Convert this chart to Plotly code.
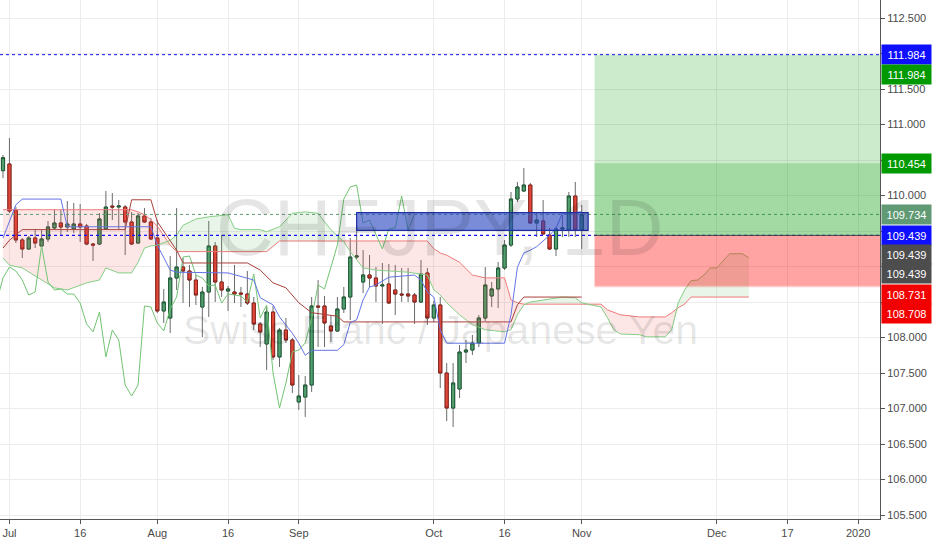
import numpy as np
import pandas as pd
import plotly.graph_objects as go

# ---------------- data ----------------
dates = pd.bdate_range("2019-06-28", "2019-11-01")

opens = [110.350, 110.444, 109.796, 109.374, 109.247, 109.402, 109.289, 109.388, 109.543, 109.613,
         109.557, 109.529, 109.599, 109.571, 109.317, 109.317, 109.529, 109.852, 109.838, 109.838,
         109.627, 109.331, 109.712, 109.627, 109.402, 108.374, 108.275, 108.838, 108.993, 108.937,
         108.810, 108.430, 108.641, 109.289, 108.782, 108.655, 108.641, 108.627, 108.613, 108.486,
         108.190, 107.909, 108.359, 107.726, 108.106, 107.965, 107.092, 107.162, 107.331, 108.444,
         108.444, 108.162, 108.092, 108.402, 108.571, 109.134, 108.782, 108.881, 108.838, 108.726,
         108.754, 108.669, 108.613, 108.613, 108.599, 108.500, 108.909, 108.275, 108.458, 107.500,
         107.007, 107.275, 107.796, 107.824, 107.923, 108.275, 108.585, 108.684, 108.979, 109.303,
         109.951, 110.064, 110.148, 109.613, 109.641, 109.444, 109.247, 109.529, 109.515, 109.993,
         109.515]
highs = [110.571, 110.810, 109.838, 109.402, 109.430, 109.529, 109.515, 109.641, 109.810, 109.796,
         109.923, 109.895, 109.881, 109.600, 109.331, 109.754, 110.064, 110.036, 109.937, 109.866,
         109.768, 109.754, 109.824, 109.684, 109.655, 108.684, 109.148, 109.824, 109.120, 109.022,
         108.881, 108.712, 109.641, 109.345, 109.444, 108.726, 109.022, 108.712, 108.937, 108.571,
         108.218, 108.430, 108.444, 108.134, 108.275, 107.993, 107.472, 107.458, 108.571, 108.810,
         108.585, 108.317, 108.571, 108.712, 109.402, 109.585, 109.233, 109.162, 108.993, 109.050,
         109.036, 109.022, 108.979, 108.979, 108.627, 109.092, 108.979, 108.514, 108.571, 107.641,
         107.641, 107.895, 107.965, 108.036, 108.317, 108.993, 108.782, 109.064, 109.374, 110.050,
         110.191, 110.388, 110.177, 109.768, 109.937, 109.543, 109.557, 109.726, 110.050, 110.191,
         109.867]
lows = [110.247, 109.754, 109.331, 109.120, 109.233, 109.261, 109.275, 109.345, 109.530, 109.444,
        109.486, 109.472, 109.345, 109.300, 109.078, 109.303, 109.515, 109.655, 109.515, 109.162,
        109.303, 109.320, 109.613, 109.374, 108.345, 108.205, 108.064, 108.669, 108.486, 108.430,
        108.458, 108.007, 108.289, 108.500, 108.571, 108.374, 108.486, 108.430, 108.458, 108.106,
        107.866, 107.543, 107.684, 107.585, 107.923, 107.219, 106.979, 106.881, 107.233, 107.866,
        107.866, 107.937, 108.078, 108.345, 108.247, 109.106, 108.627, 108.712, 108.500, 108.190,
        108.472, 108.317, 108.500, 108.500, 108.190, 108.486, 108.176, 108.218, 107.289, 106.824,
        106.740, 107.148, 107.641, 107.754, 107.866, 108.233, 108.430, 108.416, 108.951, 109.275,
        109.909, 110.050, 109.600, 109.416, 109.444, 109.233, 109.148, 109.416, 109.416, 109.416,
        109.247]
closes = [110.533, 109.782, 109.374, 109.247, 109.402, 109.331, 109.388, 109.557, 109.613, 109.557,
          109.599, 109.599, 109.557, 109.317, 109.303, 109.670, 109.838, 109.838, 109.852, 109.627,
          109.317, 109.712, 109.627, 109.388, 108.374, 108.500, 108.838, 108.993, 108.937, 108.810,
          108.599, 108.641, 109.289, 108.782, 108.669, 108.684, 108.613, 108.613, 108.486, 108.190,
          108.078, 108.359, 107.726, 108.106, 107.965, 107.331, 107.176, 107.331, 108.444, 108.430,
          108.205, 108.092, 108.402, 108.571, 109.134, 109.148, 108.881, 108.838, 108.726, 108.740,
          108.486, 108.613, 108.599, 108.585, 108.500, 108.895, 108.275, 108.458, 107.500, 107.007,
          107.360, 107.796, 107.824, 107.923, 108.275, 108.740, 108.684, 108.979, 109.303, 109.951,
          110.120, 110.148, 109.613, 109.655, 109.458, 109.247, 109.529, 109.543, 109.993, 109.515,
          109.734]

# Ichimoku lines (vertex dates / values)
tenkan_dates = ["2019-06-28", "2019-07-01", "2019-07-02", "2019-07-03", "2019-07-11", "2019-07-12",
                "2019-07-31", "2019-08-01", "2019-08-02", "2019-08-05", "2019-08-06", "2019-08-16",
                "2019-08-22", "2019-08-23", "2019-08-27", "2019-08-28", "2019-08-30", "2019-09-02",
                "2019-09-03", "2019-09-04", "2019-09-10", "2019-09-11", "2019-09-12", "2019-09-13",
                "2019-09-16", "2019-09-17", "2019-09-18", "2019-09-20", "2019-09-26", "2019-09-27",
                "2019-09-30", "2019-10-01", "2019-10-02", "2019-10-03", "2019-10-16", "2019-10-17",
                "2019-10-18", "2019-10-21", "2019-10-22", "2019-10-23", "2019-10-25", "2019-10-28",
                "2019-10-29", "2019-11-01"]
tenkan_vals = [109.40, 109.63, 109.87, 109.95, 109.95, 109.56,
               109.56, 109.30, 109.12, 108.95, 108.92, 108.91,
               108.81, 108.56, 108.46, 108.29, 108.06, 107.92,
               107.75, 107.82, 107.82, 107.90, 108.21, 108.25,
               108.53, 108.71, 108.74, 108.85, 108.88, 108.81,
               108.64, 108.57, 108.11, 107.92, 107.92, 108.32,
               108.99, 109.19, 109.23, 109.28, 109.44, 109.54,
               109.75, 109.77]

kijun_dates = ["2019-06-28", "2019-07-01", "2019-07-03", "2019-07-25", "2019-07-26", "2019-07-31",
               "2019-08-01", "2019-08-05", "2019-08-06", "2019-08-07", "2019-08-21", "2019-08-23",
               "2019-08-27", "2019-08-29", "2019-09-02", "2019-09-04", "2019-09-10", "2019-09-11",
               "2019-10-17", "2019-10-18", "2019-10-21", "2019-11-01"]
kijun_vals = [109.26, 109.37, 109.52, 109.52, 109.94, 109.94,
              109.63, 109.37, 109.23, 109.05, 109.05, 108.95,
              108.77, 108.70, 108.49, 108.35, 108.30, 108.22,
              108.22, 108.46, 108.57, 108.57]

cloud_dates = ["2019-06-28", "2019-07-01", "2019-07-03", "2019-07-08", "2019-07-10", "2019-07-12",
               "2019-07-17", "2019-07-19", "2019-07-22", "2019-07-24", "2019-07-26", "2019-07-29",
               "2019-07-30", "2019-07-31", "2019-08-01", "2019-08-05", "2019-08-06", "2019-08-07",
               "2019-08-09", "2019-08-13", "2019-08-16", "2019-08-19", "2019-08-20", "2019-08-23",
               "2019-08-26", "2019-08-28", "2019-08-30", "2019-09-03", "2019-09-05", "2019-09-06",
               "2019-09-09", "2019-09-10", "2019-09-11", "2019-09-12", "2019-09-16", "2019-09-18",
               "2019-09-25", "2019-09-30", "2019-10-01", "2019-10-02", "2019-10-03", "2019-10-07",
               "2019-10-09", "2019-10-11", "2019-10-16", "2019-10-17", "2019-10-18", "2019-10-21",
               "2019-10-22", "2019-10-29", "2019-10-31", "2019-11-01", "2019-11-06", "2019-11-07",
               "2019-11-08", "2019-11-11", "2019-11-14", "2019-11-15", "2019-11-20", "2019-11-21",
               "2019-11-22", "2019-11-25", "2019-11-26", "2019-11-27", "2019-11-28", "2019-11-29",
               "2019-12-02", "2019-12-04", "2019-12-06", "2019-12-09"]
span_a = [109.12, 109.02, 108.98, 108.81, 108.70, 108.67,
          108.77, 108.81, 108.98, 108.91, 108.91, 109.06,
          109.26, 109.29, 109.30, 109.37, 109.44, 109.58,
          109.67, 109.70, 109.73, 109.54, 109.52, 109.52,
          109.49, 109.56, 109.75, 109.77, 109.75, 109.63,
          109.52, 109.43, 109.35, 109.21, 108.98, 108.95,
          108.92, 108.88, 108.67, 108.60, 108.49, 108.32,
          108.18, 108.11, 108.08, 108.11, 108.32, 108.46,
          108.50, 108.57, 108.56, 108.49, 108.43, 108.28,
          108.11, 108.05, 108.04, 108.01, 108.01, 108.11,
          108.49, 108.67, 108.80, 108.81, 108.88, 108.98,
          108.98, 109.18, 109.18, 109.12]
span_b = [109.80, 109.80, 109.80, 109.80, 109.80, 109.80,
          109.80, 109.80, 109.80, 109.80, 109.80, 109.77,
          109.73, 109.66, 109.57, 109.30, 109.21, 109.21,
          109.21, 109.21, 109.21, 109.21, 109.21, 109.21,
          109.21, 109.36, 109.36, 109.36, 109.36, 109.36,
          109.36, 109.36, 109.36, 109.36, 109.36, 109.36,
          109.36, 109.36, 109.25, 109.19, 109.16, 109.06,
          108.88, 108.84, 108.84, 108.53, 108.49, 108.47,
          108.47, 108.47, 108.47, 108.47, 108.47, 108.39,
          108.35, 108.32, 108.29, 108.29, 108.29, 108.35,
          108.42, 108.47, 108.57, 108.57, 108.57, 108.57,
          108.57, 108.57, 108.57, 108.57]
LAG = 26

# drawings
zone_start, zone_end = "2019-09-13", "2019-11-04"
zone_low, zone_high = 109.51, 109.76
pos_start, pos_end = "2019-11-05", "2020-01-20"
entry = 109.439
target_far, target_near = 111.984, 110.454
stop_a, stop_b = 108.731, 108.708
last_price = 109.734

ytick_vals = [105.5, 106.0, 106.5, 107.0, 107.5, 108.0, 108.5, 109.0, 109.5, 110.0, 110.5, 111.0, 111.5, 112.0, 112.5]
ytick_text = ["105.500", "106.000", "106.500", "107.000", "107.500", "108.000", "", "", "", "110.000",
              "", "111.000", "111.500", "", "112.500"]
xtick_vals = ["2019-07-01", "2019-07-16", "2019-08-01", "2019-08-16", "2019-09-02", "2019-10-01",
              "2019-10-16", "2019-11-01", "2019-12-02", "2019-12-17", "2020-01-01"]
xtick_text = ["Jul", "16", "Aug", "16", "Sep", "Oct", "16", "Nov", "Dec", "17", "2020"]

# ---------------- figure ----------------
FONT = "Liberation Sans, Arial, sans-serif"
fig = go.Figure()

cd = pd.to_datetime(cloud_dates)
a = np.array(span_a)
b = np.array(span_b)
lower = np.minimum(a, b)
# red cloud (span B above span A)
fig.add_trace(go.Scatter(x=cd, y=lower, mode="lines", line=dict(width=0), hoverinfo="skip"))
fig.add_trace(go.Scatter(x=cd, y=b, mode="lines", line=dict(width=0), fill="tonexty",
                         fillcolor="rgba(240,80,80,0.14)", hoverinfo="skip"))
# green cloud (span A above span B)
fig.add_trace(go.Scatter(x=cd, y=lower, mode="lines", line=dict(width=0), hoverinfo="skip"))
fig.add_trace(go.Scatter(x=cd, y=a, mode="lines", line=dict(width=0), fill="tonexty",
                         fillcolor="rgba(76,175,80,0.13)", hoverinfo="skip"))
fig.add_trace(go.Scatter(x=cd, y=b, mode="lines", line=dict(color="#ef7b7b", width=1)))
fig.add_trace(go.Scatter(x=cd, y=a, mode="lines", line=dict(color="#86cf86", width=1)))

# lagging span: closes shifted back LAG sessions
all_days = pd.bdate_range("2019-05-01", "2020-02-28")
pos = {d: k for k, d in enumerate(all_days)}
chik_x = [all_days[pos[d] - LAG] for d in dates]
fig.add_trace(go.Scatter(x=chik_x, y=closes, mode="lines", line=dict(color="#72c472", width=1)))

fig.add_trace(go.Scatter(x=pd.to_datetime(kijun_dates), y=kijun_vals, mode="lines",
                         line=dict(color="#a8403c", width=1)))
fig.add_trace(go.Scatter(x=pd.to_datetime(tenkan_dates), y=tenkan_vals, mode="lines",
                         line=dict(color="#6474e6", width=1)))

# candles: wick layer then body layer
fig.add_trace(go.Candlestick(x=dates, open=opens, high=highs, low=lows, close=closes,
                             increasing=dict(line=dict(color="#6b6b6b", width=1), fillcolor="#53a06f"),
                             decreasing=dict(line=dict(color="#6b6b6b", width=1), fillcolor="#e2483a"),
                             whiskerwidth=0, hoverinfo="skip"))
body_hi = np.maximum(opens, closes)
body_lo = np.minimum(opens, closes)
fig.add_trace(go.Candlestick(x=dates, open=opens, high=body_hi, low=body_lo, close=closes,
                             increasing=dict(line=dict(color="#1f5a37", width=1), fillcolor="#53a06f"),
                             decreasing=dict(line=dict(color="#8c231b", width=1), fillcolor="#e2483a"),
                             whiskerwidth=0, hoverinfo="skip"))

shapes = []
# horizontal lines
shapes.append(dict(type="line", xref="paper", x0=0, x1=1, yref="y", y0=target_far, y1=target_far,
                   line=dict(color="#1010ff", width=1, dash="dot")))
shapes.append(dict(type="line", xref="paper", x0=0, x1=1, yref="y", y0=last_price, y1=last_price,
                   line=dict(color="#5f9a74", width=1, dash="dot")))
shapes.append(dict(type="line", xref="paper", x0=0, x1=1, yref="y", y0=entry, y1=entry,
                   line=dict(color="#1010ff", width=1.3, dash="dot")))
# blue zone
shapes.append(dict(type="rect", xref="x", yref="y", x0=zone_start, x1=zone_end, y0=zone_low, y1=zone_high,
                   fillcolor="rgba(40,70,190,0.62)", line=dict(color="#1d2fa8", width=1.2)))
# position tools
for tgt in (target_far, target_near):
    shapes.append(dict(type="rect", xref="x", yref="y", x0=pos_start, x1=pos_end, y0=entry, y1=tgt,
                       fillcolor="rgba(0,150,0,0.2)", line=dict(width=0)))
for stp in (stop_a, stop_b):
    shapes.append(dict(type="rect", xref="x", yref="y", x0=pos_start, x1=pos_end, y0=stp, y1=entry,
                       fillcolor="rgba(255,0,0,0.2)", line=dict(width=0)))
shapes.append(dict(type="line", xref="x", yref="y", x0=pos_start, x1=pos_end, y0=entry, y1=entry,
                   line=dict(color="#444444", width=1)))

annotations = [
    dict(text="CHFJPY, 1D", xref="paper", yref="y", x=0.5, y=109.55, showarrow=False,
         font=dict(family=FONT, size=80, color="rgba(0,0,0,0.10)")),
    dict(text="Swiss Franc / Japanese Yen", xref="paper", yref="y", x=0.5, y=108.1, showarrow=False,
         font=dict(family=FONT, size=41, color="rgba(0,0,0,0.10)")),
]
labels = [
    (target_far, "#0f0fff", 0),
    (target_far, "#009a00", -19.5),
    (target_near, "#009a00", 0),
    (last_price, "#5f9a74", 0),
    (entry, "#0f0fff", 0),
    (entry, "#4d4d4d", -19),
    (entry, "#4d4d4d", -38.5),
    (stop_a, "#f20000", -8.5),
    (stop_b, "#f20000", -26),
]
for val, col, sh in labels:
    annotations.append(dict(text=f"{val:.3f}", xref="paper", yref="y", x=1, y=val, xanchor="left",
                            yanchor="middle", xshift=1, yshift=sh, showarrow=False, bgcolor=col,
                            width=47, height=17, borderpad=1, align="center",
                            font=dict(family=FONT, size=11, color="white")))

fig.update_layout(
    width=932, height=550,
    margin=dict(l=0, r=52, t=0, b=31),
    paper_bgcolor="white", plot_bgcolor="white",
    showlegend=False,
    shapes=shapes, annotations=annotations,
    xaxis=dict(
        type="date",
        range=["2019-06-27 12:47", "2020-01-06 09:20"],
        rangebreaks=[dict(bounds=["sat", "mon"])],
        rangeslider=dict(visible=False),
        tickvals=xtick_vals, ticktext=xtick_text,
        showgrid=True, gridcolor="#ececec", gridwidth=1,
        showline=True, linecolor="#555555", linewidth=1,
        ticks="outside", ticklen=4, tickcolor="#555555",
        tickfont=dict(family=FONT, size=11, color="#4a4a4a"),
        zeroline=False, fixedrange=True,
    ),
    yaxis=dict(
        side="right",
        range=[105.444, 112.754],
        tickvals=ytick_vals, ticktext=ytick_text,
        showgrid=True, gridcolor="#ececec", gridwidth=1,
        showline=True, linecolor="#555555", linewidth=1,
        ticks="outside", ticklen=4, tickcolor="#555555",
        tickfont=dict(family=FONT, size=11, color="#4a4a4a"),
        zeroline=False, fixedrange=True,
    ),
)

fig.write_html("out.html", config={"displayModeBar": False},
               post_script="document.body.style.margin='0';document.body.style.overflow='hidden';")
